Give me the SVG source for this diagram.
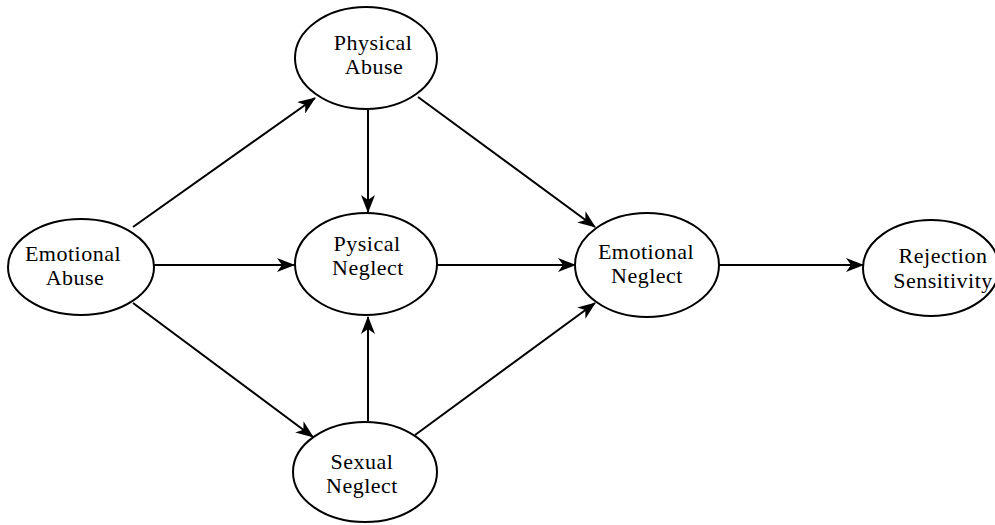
<svg xmlns="http://www.w3.org/2000/svg" width="995" height="525" viewBox="0 0 995 525">
<defs>
<marker id="ah" viewBox="0 0 18 14" refX="17" refY="7" markerWidth="18" markerHeight="14" markerUnits="userSpaceOnUse" orient="auto">
<path d="M0,0 L18,7 L0,14 L5,7 z" fill="#000"/>
</marker>
<style>
.n ellipse{fill:#fff;stroke:#000;stroke-width:2}
.n text{font-family:'Liberation Serif','Times New Roman',serif;font-size:22px;fill:#000;text-anchor:middle;letter-spacing:0.5px}
.e line{stroke:#000;stroke-width:2;marker-end:url(#ah)}
</style>
</defs>
<rect width="995" height="525" fill="#fff"/>
<g id="edges" class="e">
<line x1="133" y1="227" x2="315" y2="98"/>
<line x1="368" y1="110" x2="368" y2="212"/>
<line x1="418" y1="97" x2="595" y2="227"/>
<line x1="153" y1="265" x2="294" y2="265"/>
<line x1="437" y1="265" x2="575" y2="265"/>
<line x1="133" y1="303" x2="313" y2="437"/>
<line x1="368" y1="421" x2="368" y2="317"/>
<line x1="415" y1="435" x2="595" y2="303"/>
<line x1="717" y1="265" x2="863" y2="265"/>
</g>
<g id="emotional-abuse" class="n">
<ellipse cx="81" cy="267" rx="73" ry="48"/>
<text x="73" y="261">Emotional</text>
<text x="75" y="285">Abuse</text>
</g>
<g id="physical-abuse" class="n">
<ellipse cx="366" cy="58" rx="71" ry="51"/>
<text x="373" y="50">Physical</text>
<text x="374" y="74">Abuse</text>
</g>
<g id="pysical-neglect" class="n">
<ellipse cx="366" cy="264" rx="71" ry="51"/>
<text x="367" y="251">Pysical</text>
<text x="368" y="275">Neglect</text>
</g>
<g id="sexual-neglect" class="n">
<ellipse cx="365" cy="472" rx="72" ry="50"/>
<text x="362" y="469">Sexual</text>
<text x="362" y="493">Neglect</text>
</g>
<g id="emotional-neglect" class="n">
<ellipse cx="647" cy="265" rx="72" ry="52"/>
<text x="646" y="259">Emotional</text>
<text x="647" y="283">Neglect</text>
</g>
<g id="rejection-sensitivity" class="n">
<ellipse cx="931" cy="268" rx="68" ry="48"/>
<text x="943" y="263">Rejection</text>
<text x="943" y="288">Sensitivity</text>
</g>
</svg>
